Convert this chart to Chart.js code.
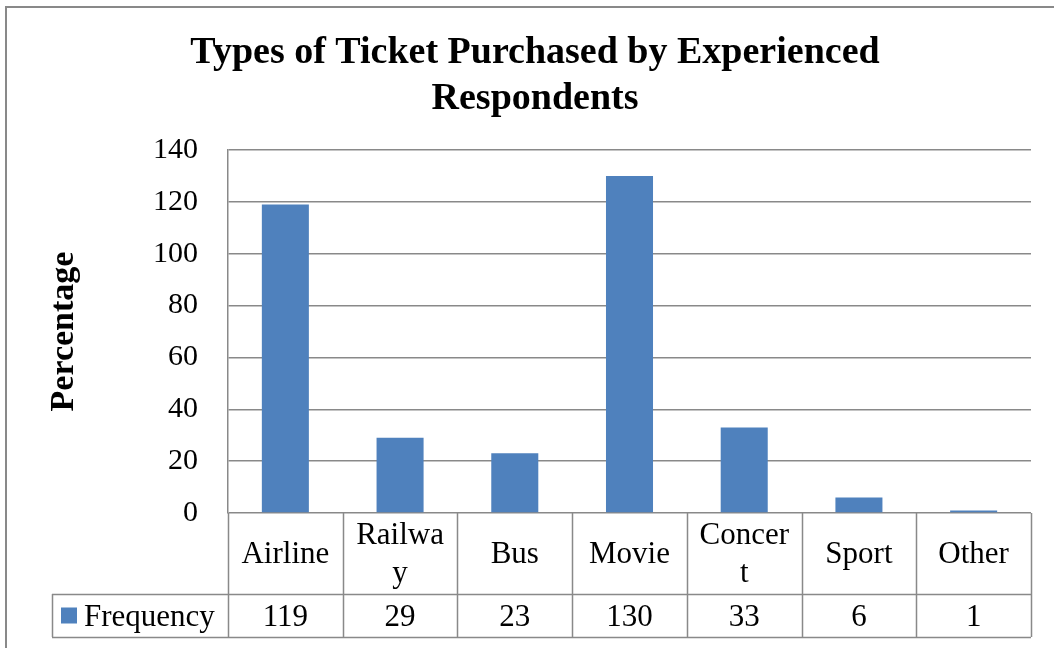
<!DOCTYPE html>
<html>
<head>
<meta charset="utf-8">
<script src="https://cdn.jsdelivr.net/npm/chart.js@4.4.1/dist/chart.umd.min.js"></script>
<style>
  html, body { margin: 0; padding: 0; background: #fff; overflow: hidden; }
  #wrap { position: relative; width: 1054px; height: 648px; }
</style>
</head>
<body>
<div id="wrap"><canvas id="ticketChart"></canvas></div>
<script>
// ticket types, wrapped the way the table cells show them
const categories = ["Airline", ["Railwa", "y"], "Bus", "Movie", ["Concer", "t"], "Sport", "Other"];
const frequency = [119, 29, 23, 130, 33, 6, 1];
const yTicks = [0, 20, 40, 60, 80, 100, 120, 140];

const serif = "'Liberation Serif', 'Times New Roman', serif";
const barColor = "#4F81BD";
const lineColor = "#898989";

// outer frame of the chart object
const framePlugin = {
  id: "frame",
  beforeDraw(chart) {
    const ctx = chart.ctx;
    ctx.save();
    ctx.fillStyle = "#fff";
    ctx.fillRect(0, 0, chart.width, chart.height);
    ctx.strokeStyle = lineColor;
    ctx.lineWidth = 2;
    ctx.strokeRect(6, 7, chart.width + 50, chart.height + 50);
    ctx.restore();
  }
};

// data table under the plot: category row + value row with legend key
const dataTablePlugin = {
  id: "dataTable",
  afterDraw(chart) {
    const ctx = chart.ctx;
    const area = chart.chartArea;
    const labels = chart.data.labels;
    const values = chart.data.datasets[0].data;
    const colW = (area.right - area.left) / labels.length;
    const rowTop = area.bottom;
    const rowMid = rowTop + 81;
    const rowBot = rowMid + 43;
    const legendLeft = 52;

    ctx.save();
    ctx.strokeStyle = lineColor;
    ctx.lineWidth = 1.5;
    ctx.beginPath();
    for (let i = 0; i <= labels.length; i++) {
      const x = Math.round(area.left + i * colW) + 0.5;
      ctx.moveTo(x, rowTop);
      ctx.lineTo(x, rowBot);
    }
    ctx.moveTo(legendLeft + 0.5, rowMid);
    ctx.lineTo(legendLeft + 0.5, rowBot);
    ctx.moveTo(legendLeft, rowMid + 0.5);
    ctx.lineTo(area.right, rowMid + 0.5);
    ctx.moveTo(legendLeft, rowBot + 0.5);
    ctx.lineTo(area.right, rowBot + 0.5);
    ctx.stroke();

    ctx.fillStyle = "#000";
    ctx.font = "31px " + serif;
    ctx.textAlign = "center";
    ctx.textBaseline = "middle";
    const lh = 38;
    labels.forEach((lab, i) => {
      const cx = area.left + (i + 0.5) * colW;
      const lines = Array.isArray(lab) ? lab : [lab];
      const midY = (rowTop + rowMid) / 2 + 1;
      const startY = midY - (lines.length - 1) * lh / 2;
      lines.forEach((t, j) => ctx.fillText(t, cx, startY + j * lh));
      ctx.fillText(String(values[i]), cx, (rowMid + rowBot) / 2 + 2);
    });

    // legend key
    const keyY = (rowMid + rowBot) / 2;
    ctx.fillStyle = barColor;
    ctx.fillRect(61, keyY - 8, 16, 16);
    ctx.fillStyle = "#000";
    ctx.textAlign = "left";
    ctx.fillText(chart.data.datasets[0].label, 84, keyY + 2);
    ctx.restore();
  }
};

new Chart(document.getElementById("ticketChart"), {
  type: "bar",
  data: {
    labels: categories,
    datasets: [{
      label: "Frequency",
      data: frequency,
      backgroundColor: barColor,
      borderWidth: 0,
      categoryPercentage: 1,
      barPercentage: 0.41
    }]
  },
  options: {
    responsive: true,
    maintainAspectRatio: false,
    animation: false,
    layout: { padding: { left: 39, right: 23, top: 0, bottom: 135 } },
    plugins: {
      legend: { display: false },
      tooltip: { enabled: false },
      title: {
        display: true,
        text: ["Types of Ticket Purchased by Experienced", "Respondents"],
        color: "#000",
        font: { family: serif, size: 38, weight: "bold", lineHeight: 1.21 },
        padding: { top: 30, bottom: 28 }
      }
    },
    scales: {
      x: { display: false },
      y: {
        min: 0,
        max: 140,
        afterBuildTicks: (scale) => { scale.ticks = yTicks.map(v => ({ value: v })); },
        afterFit: (scale) => { scale.width = 189; },
        ticks: {
          color: "#000",
          padding: 30,
          font: { family: serif, size: 30 }
        },
        grid: { color: lineColor, lineWidth: 1.5, drawTicks: false },
        border: { color: lineColor, width: 1.5 },
        title: {
          display: true,
          text: "Percentage",
          color: "#000",
          padding: { top: 5, bottom: 0 },
          font: { family: serif, size: 34, weight: "bold" }
        }
      }
    }
  },
  plugins: [framePlugin, dataTablePlugin]
});
</script>
</body>
</html>
